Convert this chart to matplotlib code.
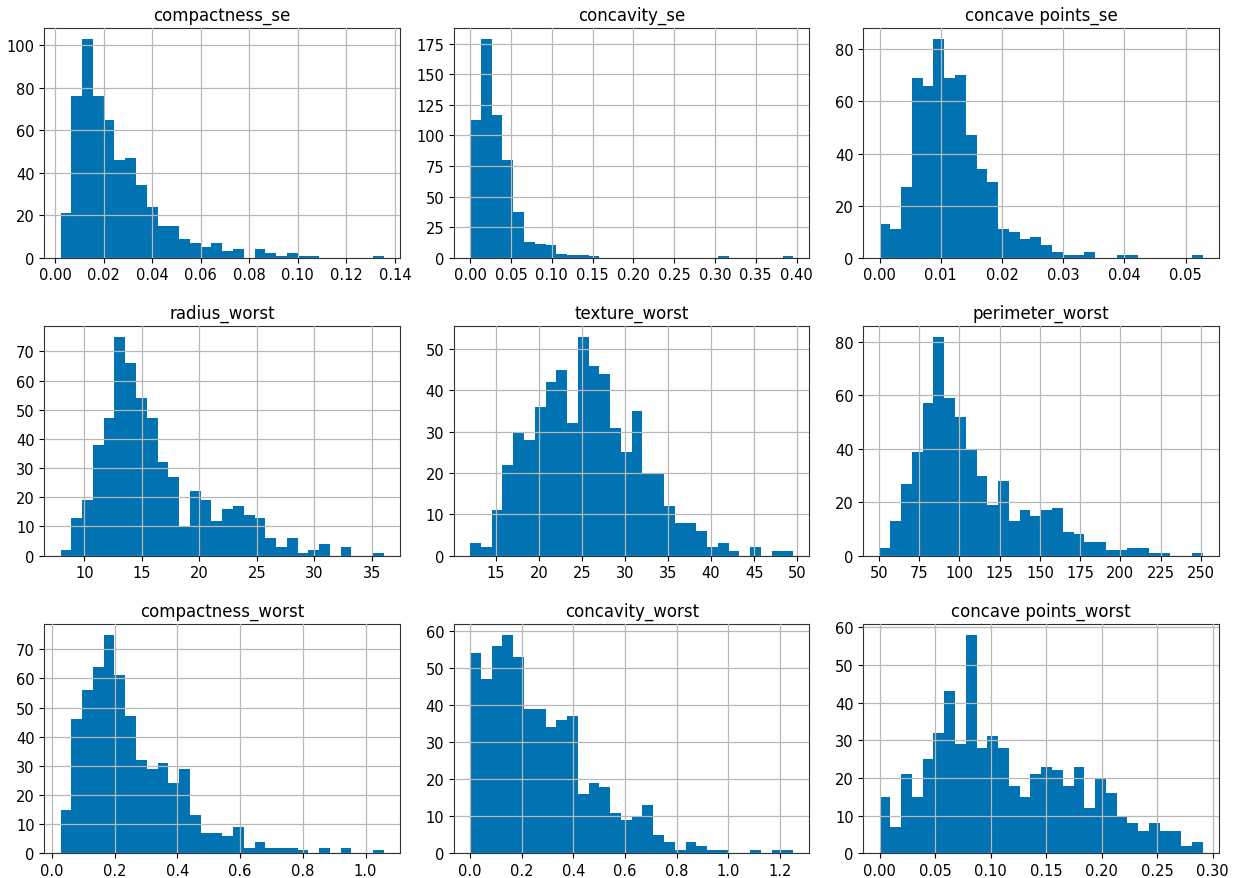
import numpy as np
import matplotlib
matplotlib.use("Agg")
import matplotlib.pyplot as plt
from matplotlib.ticker import MultipleLocator

# histogram counts (30 bins each)
titles = ["compactness_se", "concavity_se", "concave points_se",
          "radius_worst", "texture_worst", "perimeter_worst",
          "compactness_worst", "concavity_worst", "concave points_worst"]

# data range (min, max) of every feature
ranges = [(0.002252, 0.1354), (0.0, 0.396), (0.0, 0.05279),
          (7.93, 36.04), (12.02, 49.54), (50.41, 251.2),
          (0.02729, 1.058), (0.0, 1.252), (0.0, 0.291)]

compactness_se = [21, 76, 103, 76, 65, 46, 47, 34, 24, 15, 15, 9, 7, 5, 7,
                  3, 4, 0, 4, 2, 1, 2, 1, 1, 0, 0, 0, 0, 0, 1]
concavity_se = [113, 179, 117, 80, 37, 13, 11, 10, 3, 2, 2, 1, 0, 0, 0,
                0, 0, 0, 0, 0, 0, 0, 0, 1, 0, 0, 0, 0, 0, 1]
concave_points_se = [13, 11, 27, 69, 66, 84, 69, 70, 47, 34, 29, 11, 10, 7, 8,
                     5, 2, 1, 1, 2, 0, 0, 1, 1, 0, 0, 0, 0, 0, 1]
radius_worst = [2, 13, 19, 38, 47, 75, 66, 54, 47, 32, 27, 10, 22, 19, 12,
                16, 17, 14, 13, 6, 3, 6, 1, 2, 4, 0, 3, 0, 0, 1]
texture_worst = [3, 2, 11, 22, 30, 28, 36, 42, 45, 32, 53, 46, 44, 31, 25,
                 35, 20, 20, 12, 8, 8, 6, 2, 3, 1, 0, 2, 0, 1, 1]
perimeter_worst = [3, 13, 27, 39, 57, 82, 59, 52, 40, 30, 19, 28, 13, 17, 15,
                   17, 18, 9, 8, 5, 5, 2, 2, 3, 3, 1, 1, 0, 0, 1]
compactness_worst = [15, 46, 56, 64, 75, 61, 47, 32, 29, 31, 24, 29, 13, 7, 7,
                     6, 9, 2, 4, 2, 2, 2, 1, 0, 2, 0, 2, 0, 0, 1]
concavity_worst = [54, 47, 56, 59, 53, 39, 39, 34, 36, 37, 16, 19, 18, 11, 9,
                   10, 13, 5, 3, 1, 3, 2, 1, 1, 0, 0, 1, 0, 1, 1]
concave_points_worst = [15, 7, 21, 15, 25, 32, 43, 29, 58, 28, 31, 28, 18, 15, 21,
                        23, 22, 18, 23, 12, 20, 16, 10, 8, 6, 8, 6, 6, 2, 3]

counts = [compactness_se, concavity_se, concave_points_se,
          radius_worst, texture_worst, perimeter_worst,
          compactness_worst, concavity_worst, concave_points_worst]

# tick spacing per panel (x, y)
x_steps = [0.02, 0.05, 0.01, 5, 5, 25, 0.2, 0.2, 0.05]
y_steps = [20, 25, 20, 10, 10, 20, 10, 10, 10]

plt.rcParams['font.size'] = 10.5

fig, axes = plt.subplots(3, 3, figsize=(12.35, 8.79), dpi=100)
plt.subplots_adjust(left=0.036, right=0.987, top=0.967, bottom=0.028,
                    wspace=0.152, hspace=0.297)

for i, ax in enumerate(axes.flat):
    lo, hi = ranges[i]
    c = counts[i]
    edges = np.linspace(lo, hi, len(c) + 1)
    ax.hist(edges[:-1], bins=edges, weights=c, color='#0173b2')
    ax.set_title(titles[i], fontsize=12)
    ax.xaxis.set_major_locator(MultipleLocator(x_steps[i]))
    ax.yaxis.set_major_locator(MultipleLocator(y_steps[i]))
    ax.grid(True, color='#b8b8b8', linewidth=0.9)
    ax.set_axisbelow(False)
    for s in ax.spines.values():
        s.set_color('#333333')

plt.savefig('out.png')
